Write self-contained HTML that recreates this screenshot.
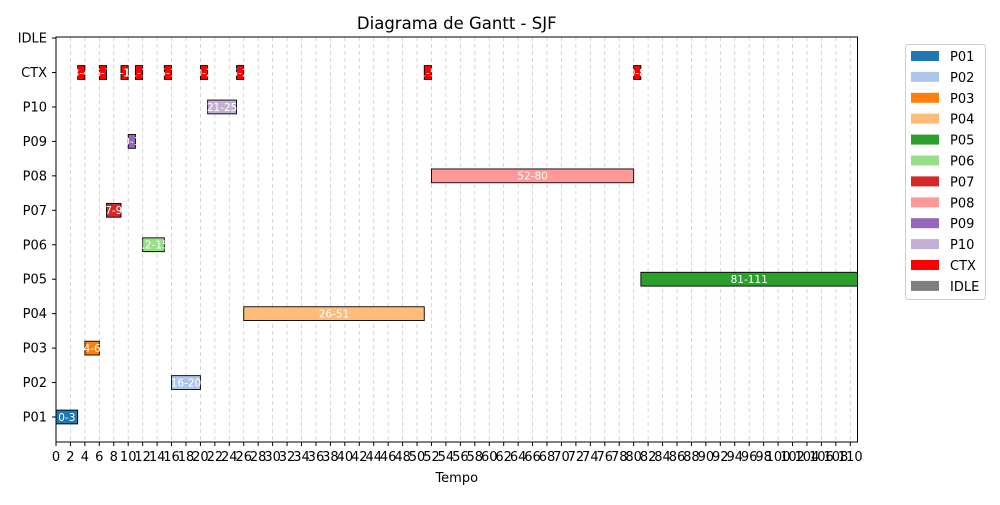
<!DOCTYPE html>
<html><head><meta charset="utf-8"><style>
body{margin:0;background:#fff;font-family:"Liberation Sans","DejaVu Sans",sans-serif}
</style></head><body>
<svg id="chart" width="1000" height="500" xmlns="http://www.w3.org/2000/svg" font-family="DejaVu Sans, Liberation Sans, sans-serif"></svg>
<script>
const rows = ["P01","P02","P03","P04","P05","P06","P07","P08","P09","P10","CTX","IDLE"];
const taskRows = ["P01","P02","P03","P04","P05","P06","P07","P08","P09","P10","CTX","CTX","CTX","CTX","CTX","CTX","CTX","CTX","CTX"];
const taskStarts = [0,16,4,26,81,12,7,52,10,21,3,6,9,11,15,20,25,51,80];
const taskEnds = [3,20,6,51,111,15,9,80,11,25,4,7,10,12,16,21,26,52,81];
const xTicks = [];
for (let t = 0; t <= 110; t += 2) xTicks.push(t);
const legendNames = ["P01","P02","P03","P04","P05","P06","P07","P08","P09","P10","CTX","IDLE"];
const colors = {P01:"#1f77b4",P02:"#aec7e8",P03:"#ff7f0e",P04:"#ffbb78",P05:"#2ca02c",P06:"#98df8a",P07:"#d62728",P08:"#ff9896",P09:"#9467bd",P10:"#c5b0d5",CTX:"#ff0000",IDLE:"#7f7f7f"};

const svg = document.getElementById('chart');
const NS = "http://www.w3.org/2000/svg";
const L = 56, R = 857.5, T = 37, B = 442;
const xMax = 111;
const xs = v => L + v / xMax * (R - L);
const y0 = 417, rowStep = 34.45;
const ys = name => y0 - rows.indexOf(name) * rowStep;
function el(tag, attrs, parent) {
  const e = document.createElementNS(NS, tag);
  for (const k in attrs) e.setAttribute(k, attrs[k]);
  (parent || svg).appendChild(e);
  return e;
}
// grid
xTicks.forEach(t => {
  const g = el('line', {x1: xs(t), x2: xs(t), y1: T, y2: B, stroke: "#cccccc", "stroke-dasharray": "4,3", "stroke-width": 0.8});
  
  
});
// bars
taskRows.forEach((r, i) => {
  const x1 = xs(taskStarts[i]), x2 = xs(taskEnds[i]), yc = ys(r), h = 13.8;
  const b = el('rect', {x: x1, y: yc - h / 2, width: x2 - x1, height: h, fill: colors[r], stroke: "#000", "stroke-width": 0.9});
  
  
  const tx = el('text', {x: (x1 + x2) / 2, y: yc + 3.8, "text-anchor": "middle", "font-size": 10.5, fill: "#fff"});
  tx.textContent = taskStarts[i] + "-" + taskEnds[i];
  
  
});
// axes frame
const fr = el('rect', {x: L, y: T, width: R - L, height: B - T, fill: "none", stroke: "#000", "stroke-width": 1});


// x ticks
xTicks.forEach(t => {
  el('line', {x1: xs(t), x2: xs(t), y1: B, y2: B + 4, stroke: "#000"});
  const tl = el('text', {x: xs(t), y: B + 19, "text-anchor": "middle", "font-size": 13, fill: "#000"});
  tl.textContent = t;
  
  
});
// y ticks
rows.forEach(r => {
  el('line', {x1: L - 4, x2: L, y1: ys(r), y2: ys(r), stroke: "#000"});
  const yl = el('text', {x: L - 9, y: ys(r) + 4.5, "text-anchor": "end", "font-size": 13, fill: "#000"});
  yl.textContent = r;
  
  
});
const title = el('text', {x: (L + R) / 2, y: 29, "text-anchor": "middle", "font-size": 16.5});
title.textContent = "Diagrama de Gantt - SJF";


const xt = el('text', {x: (L + R) / 2, y: 482, "text-anchor": "middle", "font-size": 13});
xt.textContent = "Tempo";


// legend
const lg = el('g', {});


el('rect', {x: 905.5, y: 44.5, width: 80, height: 255, rx: 3, fill: "#fff", stroke: "#cccccc"}, lg);
legendNames.forEach((n, i) => {
  const yy = 56 + i * 20.9;
  const sw = el('rect', {x: 911, y: yy - 5, width: 28, height: 10, fill: colors[n]}, lg);
  
  
  const lt = el('text', {x: 950, y: yy + 5, "font-size": 13}, lg);
  lt.textContent = n;
  
  
});
</script>
</body></html>
